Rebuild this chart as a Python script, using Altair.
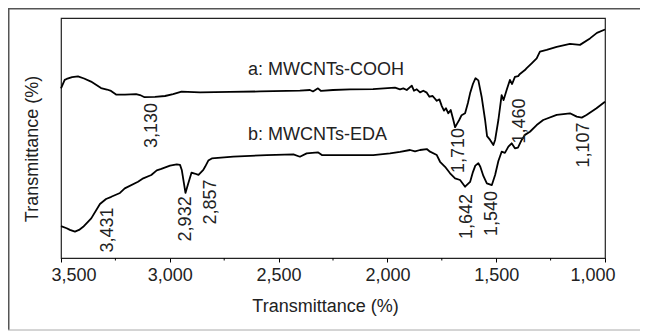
import altair as alt
import pandas as pd

# Curve a: MWCNTs-COOH  (wavenumber cm-1, relative transmittance)
a_wn = [3500, 3483, 3474, 3449, 3422, 3394, 3362, 3316, 3289, 3270, 3247, 3206, 3155, 3137,
        3116, 3068, 3022, 2985, 2946, 2861, 2723, 2585, 2402, 2356, 2342, 2319, 2305, 2250,
        2172, 2066, 1965, 1942, 1927, 1911, 1888, 1878, 1865, 1850, 1835, 1819, 1807, 1792,
        1773, 1761, 1750, 1740, 1731, 1720, 1709, 1697, 1689, 1679, 1670, 1659, 1643, 1630,
        1620, 1607, 1595, 1582, 1567, 1551, 1542, 1528, 1513, 1505, 1490, 1475, 1466, 1452,
        1437, 1427, 1414, 1399, 1391, 1368, 1361, 1337, 1314, 1299, 1268, 1222, 1161, 1115,
        1069, 1037, 1000]
a_tr = [70.7, 74.2, 74.6, 75.4, 75.7, 74.8, 73.5, 70.8, 70.2, 69.6, 68.1, 68.1, 68.3, 67.9,
        67.0, 67.1, 67.5, 68.3, 69.3, 69.0, 69.2, 69.4, 69.7, 70.0, 69.4, 70.7, 69.6, 70.0,
        70.3, 70.4, 71.0, 70.3, 70.7, 70.0, 71.8, 69.7, 70.3, 69.0, 69.7, 68.9, 67.2, 67.5,
        65.5, 66.1, 63.3, 61.4, 62.4, 60.3, 61.7, 57.5, 54.5, 56.1, 57.5, 59.5, 60.3, 64.6,
        68.6, 72.5, 74.9, 74.0, 67.2, 57.5, 50.8, 49.2, 47.1, 49.2, 57.5, 67.9, 65.8, 70.0,
        74.2, 72.5, 75.5, 75.8, 76.7, 78.3, 79.0, 81.1, 83.2, 86.0, 86.7, 88.0, 89.2, 88.8,
        91.5, 93.8, 95.2]

# Curve b: MWCNTs-EDA
b_wn = [3500, 3474, 3459, 3436, 3417, 3398, 3361, 3321, 3293, 3269, 3229, 3207, 3146, 3122,
        3085, 3060, 3039, 2999, 2968, 2953, 2945, 2935, 2928, 2916, 2900, 2886, 2868, 2846,
        2838, 2823, 2807, 2708, 2555, 2432, 2402, 2371, 2346, 2318, 2301, 2249, 2172, 2065,
        1988, 1942, 1896, 1873, 1850, 1819, 1804, 1773, 1758, 1735, 1712, 1689, 1666, 1643,
        1620, 1607, 1596, 1582, 1573, 1559, 1543, 1520, 1505, 1490, 1475, 1460, 1444, 1429,
        1414, 1400, 1383, 1368, 1345, 1314, 1284, 1222, 1161, 1130, 1107, 1085, 1039, 1000]
b_tr = [13.3, 12.4, 11.7, 11.0, 11.7, 13.0, 16.5, 22.5, 24.6, 25.5, 27.1, 29.0, 31.8, 33.2,
        34.6, 36.5, 37.1, 38.5, 39.0, 38.8, 36.7, 31.1, 27.1, 30.8, 35.6, 35.2, 34.6, 36.7,
        38.0, 40.6, 41.5, 42.2, 42.9, 43.2, 42.2, 43.6, 43.8, 44.0, 42.9, 42.9, 42.9, 42.9,
        43.6, 44.2, 45.0, 44.4, 45.0, 45.4, 44.3, 42.9, 40.1, 38.0, 35.3, 33.2, 32.5, 29.7,
        31.7, 35.8, 38.5, 39.5, 38.0, 34.2, 31.1, 30.4, 34.6, 40.4, 44.3, 43.8, 46.4, 47.8,
        45.7, 46.0, 49.2, 51.3, 52.6, 55.4, 57.5, 59.6, 60.3, 58.9, 58.5, 59.6, 62.4, 65.1]

# Peak annotations
peak_labels = ["3,130", "3,431", "2,932", "2,857", "1,710", "1,642", "1,540", "1,460", "1,107"]
peak_wn = [3082, 3284, 2926, 2811, 1671, 1634, 1519, 1391, 1096]
peak_tr = [55.2, 11.7, 16.3, 23.3, 44.8, 17.3, 18.5, 57.1, 47.1]

# Series names
series_labels = ["a: MWCNTs-COOH", "b: MWCNTs-EDA"]
series_wn = [2641, 2641]
series_tr = [78.3, 51.3]

major_ticks = [3500, 3000, 2500, 2000, 1500, 1000]
minor_ticks = [3250, 2750, 2250, 1750, 1250]

FONT = "Liberation Sans"
TXT = "#222222"
W, H = 544, 240

df = pd.concat([
    pd.DataFrame({"wn": a_wn, "tr": a_tr, "s": "a"}),
    pd.DataFrame({"wn": b_wn, "tr": b_tr, "s": "b"}),
])

xscale = alt.Scale(domain=[1000, 3500], reverse=True, nice=False, zero=False)
yscale = alt.Scale(domain=[0, 100], nice=False, zero=False)

lines = alt.Chart(df).mark_line(color="black", strokeWidth=1.8, strokeJoin="round").encode(
    x=alt.X("wn:Q", scale=xscale,
            axis=alt.Axis(values=major_ticks, format=",.0f", title="Transmittance (%)",
                          tickSize=4, tickColor="black", domain=False, grid=False,
                          labelFontSize=18, labelFont=FONT, labelColor=TXT, labelPadding=4,
                          labelFlush=True, labelFlushOffset=10,
                          titleFontSize=18, titleFont=FONT, titleColor=TXT,
                          titleFontWeight="normal", titleY=39, titleX=264,
                          titleBaseline="top")),
    y=alt.Y("tr:Q", scale=yscale,
            axis=alt.Axis(title="Transmittance (%)", labels=False, ticks=False,
                          domain=False, grid=False, titleFontSize=18, titleFont=FONT,
                          titleColor=TXT, titleFontWeight="normal", titleAngle=270,
                          titleX=-28.5, titleY=130.5, titleAlign="center",
                          titleBaseline="middle")),
    detail="s:N",
)

minor = alt.Chart(pd.DataFrame({"wn": minor_ticks})).mark_rule(
    color="black", strokeWidth=1).encode(
    x=alt.X("wn:Q", scale=xscale), y=alt.value(H), y2=alt.value(H + 2.5))

peaks = alt.Chart(pd.DataFrame({"t": peak_labels, "wn": peak_wn, "tr": peak_tr})).mark_text(
    angle=270, align="center", baseline="middle", fontSize=18, font=FONT, color=TXT).encode(
    x=alt.X("wn:Q", scale=xscale), y=alt.Y("tr:Q", scale=yscale), text="t:N")

names = alt.Chart(pd.DataFrame({"t": series_labels, "wn": series_wn, "tr": series_tr})).mark_text(
    align="left", baseline="middle", fontSize=18, font=FONT, color=TXT).encode(
    x=alt.X("wn:Q", scale=xscale), y=alt.Y("tr:Q", scale=yscale), text="t:N")

one = pd.DataFrame({"k": [0]})
border_left = alt.Chart(one).mark_rule(color="#555555", strokeWidth=1.5).encode(
    x=alt.value(-52.25), y=alt.value(-10), y2=alt.value(312))
border_top = alt.Chart(one).mark_rule(color="#555555", strokeWidth=1.5).encode(
    x=alt.value(-53), x2=alt.value(579), y=alt.value(-9.25))
border_bottom = alt.Chart(one).mark_rule(color="#aaaaaa", strokeWidth=1).encode(
    x=alt.value(-53), x2=alt.value(579), y=alt.value(312))

chart = alt.layer(lines, minor, peaks, names, border_left, border_top, border_bottom).properties(
    width=W, height=H,
    autosize=alt.AutoSizeParams(type="none"),
    padding={"left": 53, "top": 10, "right": 35, "bottom": 73},
    background="white",
).configure_view(stroke="#222222", strokeWidth=1.2)

chart.save("out.html", embed_options={"renderer": "svg", "actions": False})
